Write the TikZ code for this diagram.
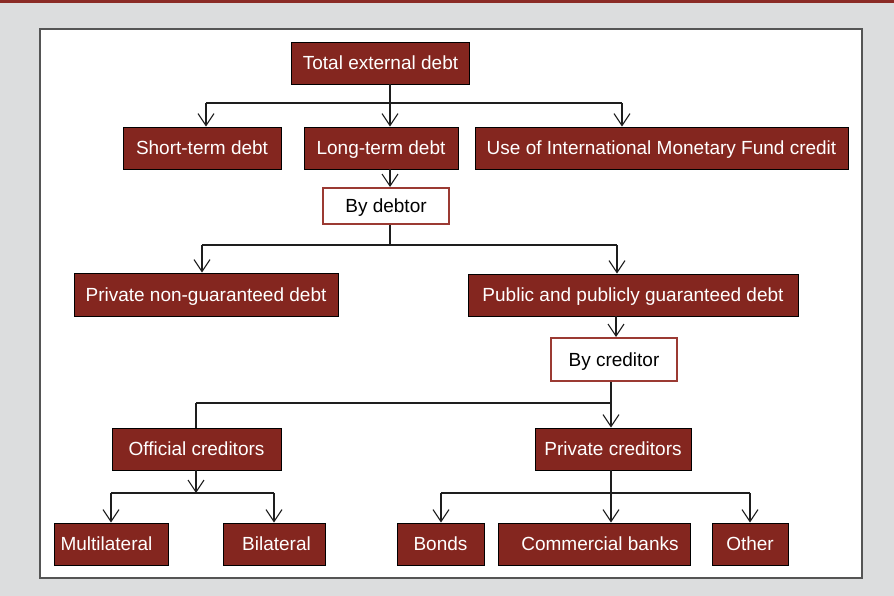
\documentclass[tikz,border=0pt]{standalone}
\usepackage{fontspec}
\setmainfont{Liberation Sans}
\usetikzlibrary{arrows.meta}
\definecolor{boxred}{HTML}{84261F}
\definecolor{topred}{HTML}{8B2B26}
\definecolor{outred}{HTML}{9B3A33}
\definecolor{bggrey}{HTML}{DCDDDE}
\definecolor{panelline}{HTML}{555555}
\definecolor{conn}{HTML}{1E1E1E}
\begin{document}
\begin{tikzpicture}[x=1pt,y=-1pt,
  redbox/.style={draw=black, line width=0.9pt, fill=boxred, text=white, inner sep=0pt,
    font=\fontsize{19}{22}\selectfont, minimum height=42pt, text height=13.6pt, text depth=0pt},
  outbox/.style={draw=outred, line width=2pt, fill=white, text=black, inner sep=0pt,
    font=\fontsize{19}{22}\selectfont, text height=13.6pt, text depth=0pt},
  conline/.style={draw=conn, line width=1.1pt},
  arr/.style={conline, -{Straight Barb[length=12pt,width=16pt,line width=1.1pt]}}]
\useasboundingbox (0,0) rectangle (894,596);
\fill[bggrey] (0,0) rectangle (894,596);
\fill[topred] (0,0) rectangle (894,3);
\draw[panelline, line width=1.4pt, fill=white] (40,29) rectangle (862,578);

% nodes
\node[redbox, minimum width=178pt] (total) at (380.5,63) {Total external debt};
\node[redbox, minimum width=158pt] (short) at (202,148) {Short-term debt};
\node[redbox, minimum width=154pt] (long) at (381,148) {Long-term debt};
\node[redbox, minimum width=373pt] (imf) at (661.5,148) {Use of International Monetary Fund credit};
\node[outbox, minimum width=126pt, minimum height=36pt] (bydebtor) at (386,206) {By debtor};
\node[redbox, minimum width=264pt, minimum height=43pt] (pnd) at (206,294.5) {Private non-guaranteed debt};
\node[redbox, minimum width=330pt] (ppg) at (633,295) {Public and publicly guaranteed debt};
\node[outbox, minimum width=126pt, minimum height=43pt] (bycred) at (614,359.5) {By creditor};
\node[redbox, minimum width=169pt] (official) at (196.5,449) {Official creditors};
\node[redbox, minimum width=156pt] (private) at (613,449) {Private creditors};
\node[redbox, minimum width=114pt] (multi) at (111,544) {\kern-9pt Multilateral};
\node[redbox, minimum width=102pt] (bilat) at (274,544) {Bilateral\kern-5pt};
\node[redbox, minimum width=87pt] (bonds) at (440.5,544) {Bonds};
\node[redbox, minimum width=192pt] (comm) at (594,544) {Commercial banks\kern-12pt};
\node[redbox, minimum width=76pt] (other) at (750,544) {Other};

% junction coordinates
\coordinate (j1) at (390,103);
\coordinate (j1a) at (206,103);
\coordinate (j1c) at (622,103);
\coordinate (j2) at (390,245);
\coordinate (j2a) at (202,245);
\coordinate (j2b) at (617,245);
\coordinate (j3) at (611,403);
\coordinate (j3a) at (196,403);
\coordinate (j4) at (196,493);
\coordinate (j4a) at (111,493);
\coordinate (j4b) at (274,493);
\coordinate (j5a) at (441,493);
\coordinate (j5c) at (750,493);

% level 1
\draw[conline] (total.south -| j1) -- (j1);
\draw[conline] (j1a) -- (j1c);
\draw[arr] (j1a) -- (j1a |- short.north);
\draw[arr] (j1) -- (j1 |- long.north);
\draw[arr] (j1c) -- (j1c |- imf.north);
% long -> by debtor
\draw[arr] (long.south -| j1) -- (j1 |- bydebtor.north);
% by debtor
\draw[conline] (bydebtor.south -| j2) -- (j2);
\draw[conline] (j2a) -- (j2b);
\draw[arr] (j2a) -- (j2a |- pnd.north);
\draw[arr] (j2b) -- (j2b |- ppg.north);
% ppg -> by creditor
\draw[arr] (ppg.south -| 616,0) -- (bycred.north -| 616,0);
% by creditor
\draw[conline] (bycred.south -| j3) -- (j3);
\draw[conline] (j3a) -- (j3);
\draw[conline] (j3a) -- (j3a |- official.north);
\draw[arr] (j3) -- (j3 |- private.north);
% official
\draw[arr] (official.south -| j4) -- (j4);
\draw[conline] (j4a) -- (j4b);
\draw[arr] (j4a) -- (j4a |- multi.north);
\draw[arr] (j4b) -- (j4b |- bilat.north);
% private
\draw[conline] (j5a) -- (j5c);
\draw[arr] (private.south -| j3) -- (j3 |- comm.north);
\draw[arr] (j5a) -- (j5a |- bonds.north);
\draw[arr] (j5c) -- (j5c |- other.north);
\end{tikzpicture}
\end{document}
